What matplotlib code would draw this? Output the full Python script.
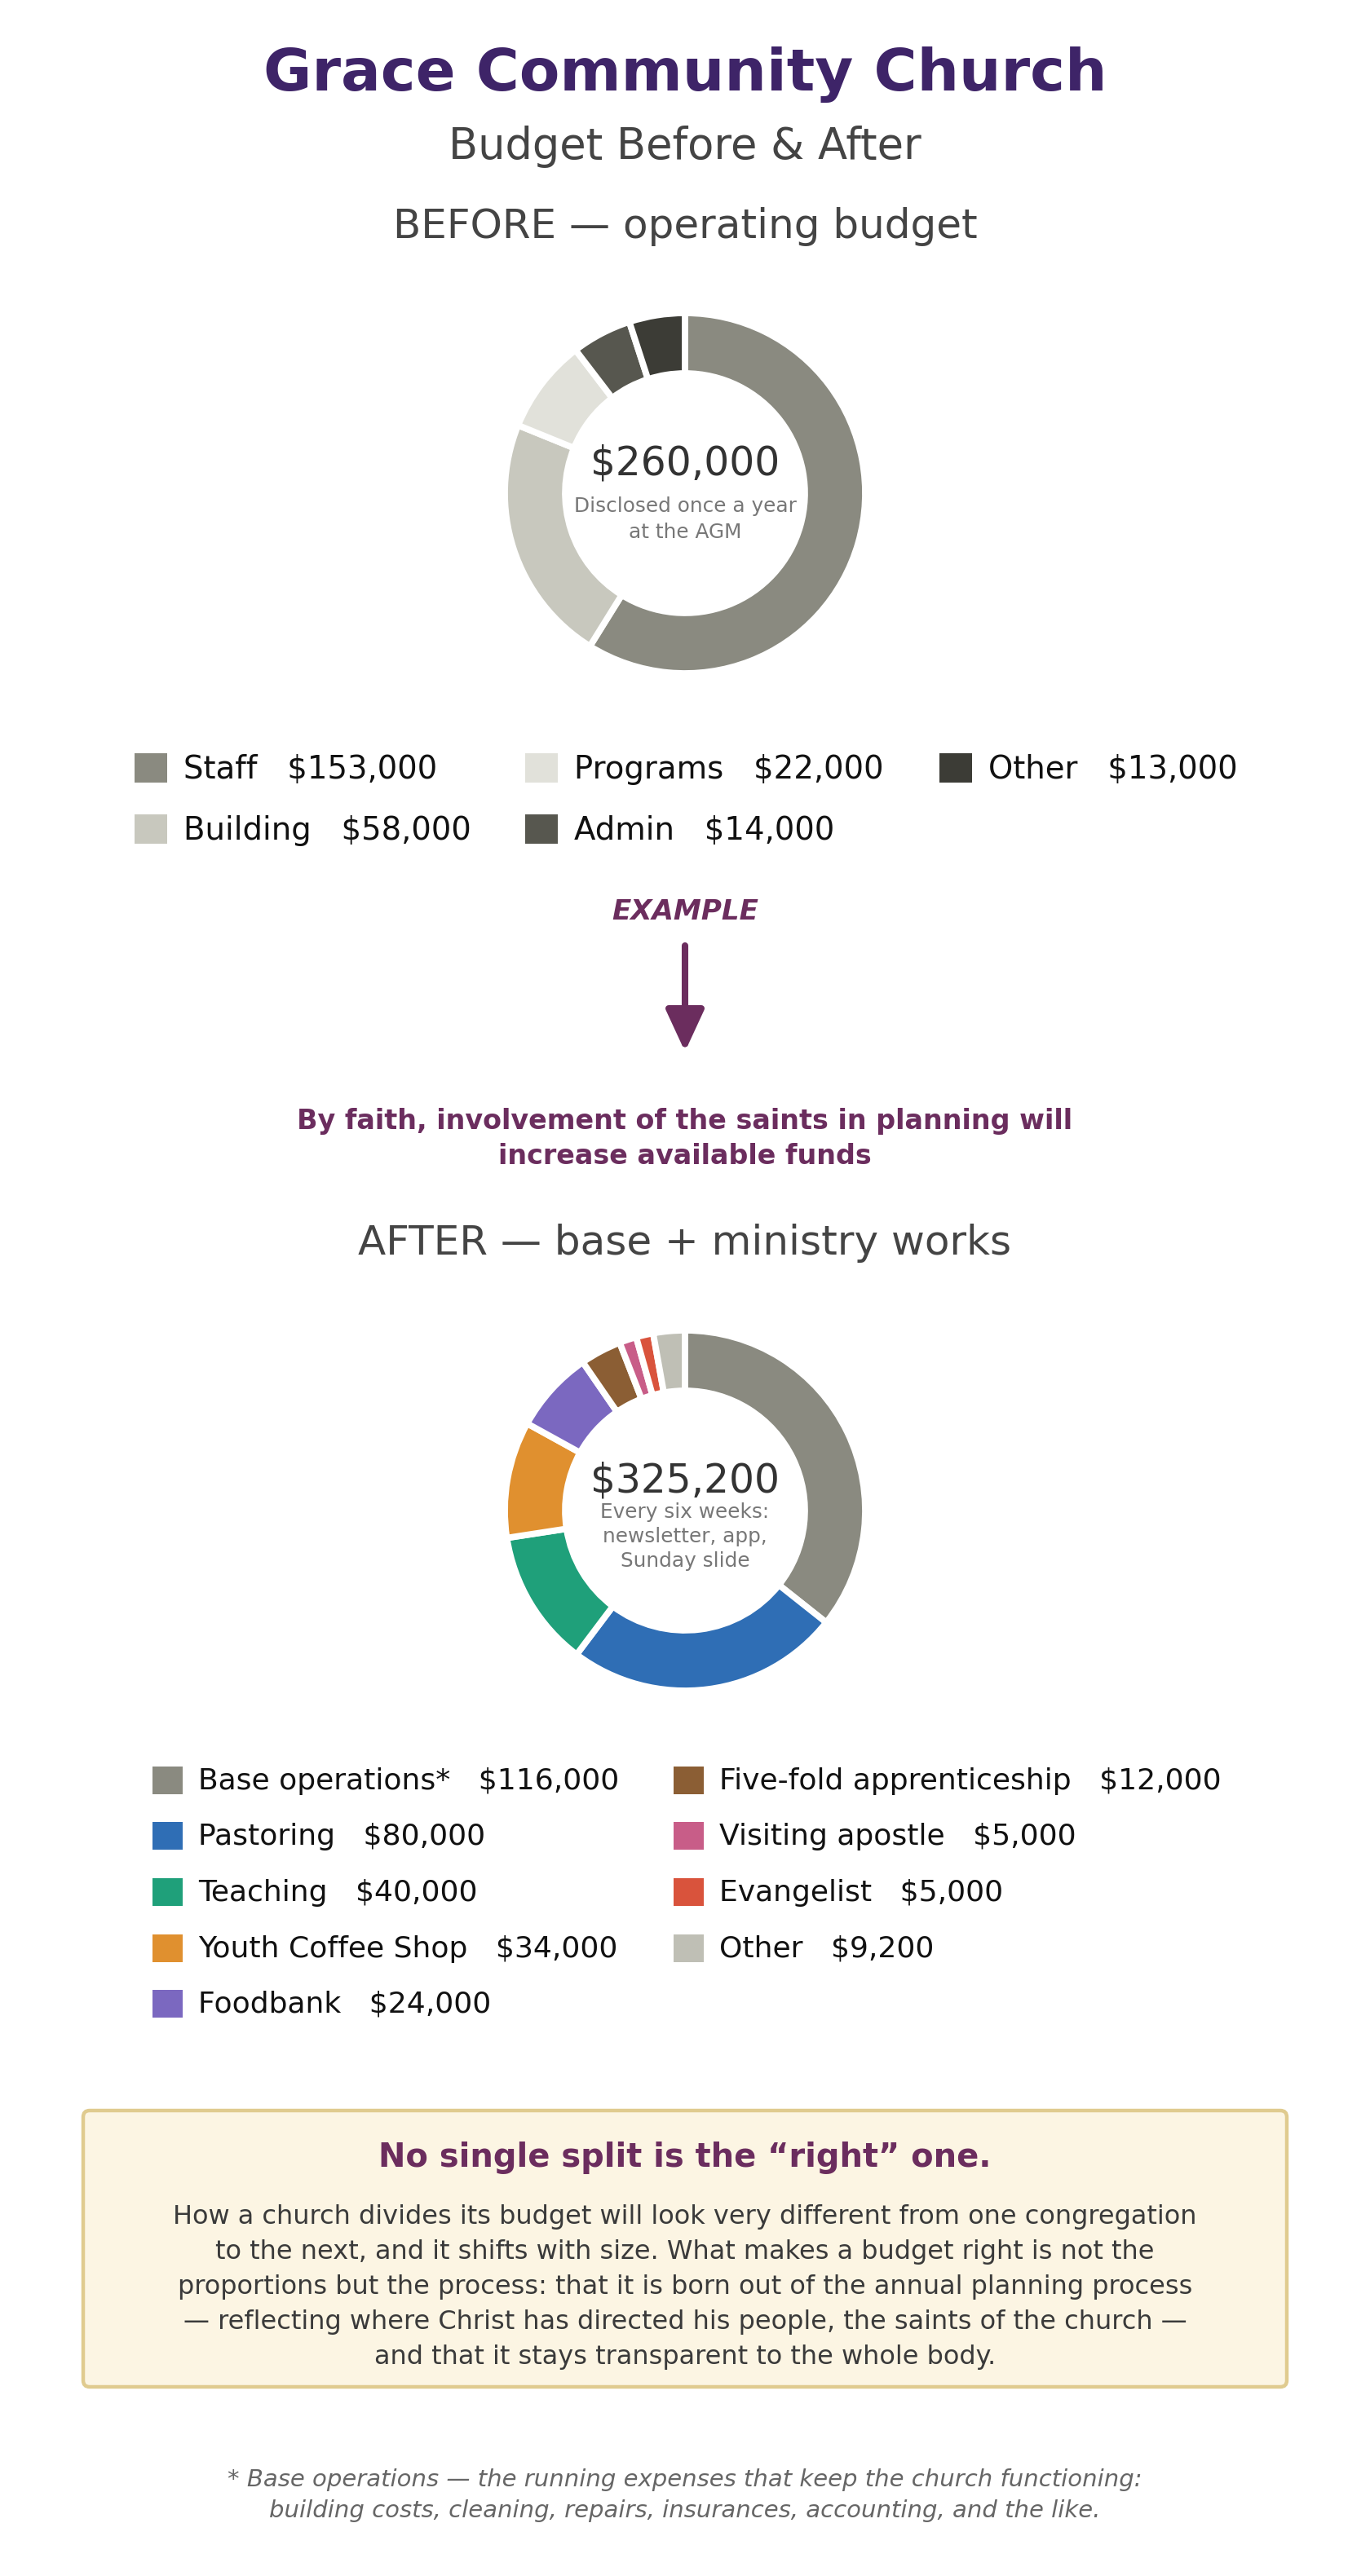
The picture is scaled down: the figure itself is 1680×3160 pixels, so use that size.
import matplotlib
matplotlib.use("Agg")
import matplotlib.pyplot as plt
from matplotlib.patches import Rectangle, FancyBboxPatch, FancyArrowPatch

plt.rcParams['font.family'] = ['DejaVu Sans']

# ---------------- data ----------------
before_labels = ["Staff", "Building", "Programs", "Admin", "Other"]
before_values = [153000, 58000, 22000, 14000, 13000]
before_colors = ["#8a8a80", "#c8c8be", "#e1e1da", "#57574f", "#3c3c36"]

after_labels = ["Base operations*", "Pastoring", "Teaching", "Youth Coffee Shop",
                "Foodbank", "Five-fold apprenticeship", "Visiting apostle",
                "Evangelist", "Other"]
after_values = [116000, 80000, 40000, 34000, 24000, 12000, 5000, 5000, 9200]
after_colors = ["#8a8a80", "#2f6eb5", "#1fa07a", "#e0902f", "#7b68c0",
                "#8b5e34", "#c85d88", "#d9533c", "#bfbfb5"]

W, H, DPI = 1680, 3160, 200
fig = plt.figure(figsize=(W / DPI, H / DPI), dpi=DPI)
fig.patch.set_facecolor("white")

bg = fig.add_axes([0, 0, 1, 1])
bg.set_xlim(0, W)
bg.set_ylim(H, 0)
bg.axis("off")

PURPLE = "#3e2468"
PLUM = "#6b2d5e"
GREY = "#444444"
CX = 840


def txt(x, y, s, size, color, weight="normal", style="normal", ha="center"):
    bg.text(x, y, s, fontsize=size, color=color, fontweight=weight,
            fontstyle=style, ha=ha, va="baseline")


def donut(cx, cy, r, values, colors):
    ax = fig.add_axes([(cx - r) / W, 1 - (cy + r) / H, 2 * r / W, 2 * r / H])
    ax.pie(values, colors=colors, startangle=90, counterclock=False,
           radius=1.0, wedgeprops=dict(width=0.335, edgecolor="white",
                                       linewidth=2.8))
    ax.set_xlim(-1, 1)
    ax.set_ylim(-1, 1)
    ax.set_aspect("equal")
    ax.axis("off")
    return ax


def money(v):
    return "${:,.0f}".format(v)


# ---------------- header ----------------
txt(CX, 111, "Grace Community Church", 26.0, PURPLE, weight="bold")
txt(CX, 195, "Budget Before & After", 19.0, GREY)
txt(CX, 292, "BEFORE — operating budget", 18.0, GREY)

# ---------------- BEFORE donut ----------------
donut(CX, 605, 221, before_values, before_colors)
txt(CX, 582, money(sum(before_values)), 17.5, "#333333")
txt(CX, 628, "Disclosed once a year", 8.9, "#777777")
txt(CX, 660, "at the AGM", 8.9, "#777777")

# BEFORE legend (column-major: 2 rows)
b_cols_sq = [165, 644, 1152]
b_rows = [942, 1017]
for i, (lab, val, col) in enumerate(zip(before_labels, before_values, before_colors)):
    c, r = divmod(i, 2)
    x0 = b_cols_sq[c]
    yc = b_rows[r]
    bg.add_patch(Rectangle((x0, yc - 18), 40, 36, facecolor=col, edgecolor="none"))
    txt(x0 + 60, yc + 13, f"{lab}   {money(val)}", 13.9, "#111111", ha="left")

# ---------------- transition ----------------
txt(CX, 1128, "EXAMPLE", 12.3, PLUM, weight="bold", style="italic")
arrow = FancyArrowPatch((CX, 1160), (CX, 1290),
                        arrowstyle="-|>,head_length=0.78,head_width=0.36",
                        mutation_scale=20, color=PLUM, linewidth=2.9,
                        shrinkA=0, shrinkB=0,
                        capstyle="round", joinstyle="round")
bg.add_patch(arrow)
txt(CX, 1385, "By faith, involvement of the saints in planning will", 12.0, PLUM, weight="bold")
txt(CX, 1428, "increase available funds", 12.0, PLUM, weight="bold")

txt(CX, 1539, "AFTER — base + ministry works", 18.0, GREY)

# ---------------- AFTER donut ----------------
donut(CX, 1853, 221, after_values, after_colors)
txt(CX, 1830, money(sum(after_values)), 17.5, "#333333")
txt(CX, 1862, "Every six weeks:", 8.9, "#777777")
txt(CX, 1892, "newsletter, app,", 8.9, "#777777")
txt(CX, 1922, "Sunday slide", 8.9, "#777777")

a_cols_sq = [187, 826]
a_rows = [2184, 2252, 2321, 2390, 2458]
for i, (lab, val, col) in enumerate(zip(after_labels, after_values, after_colors)):
    c = 0 if i < 5 else 1
    r = i if i < 5 else i - 5
    x0 = a_cols_sq[c]
    yc = a_rows[r]
    bg.add_patch(Rectangle((x0, yc - 17), 37, 34, facecolor=col, edgecolor="none"))
    txt(x0 + 56, yc + 11, f"{lab}   {money(val)}", 13.0, "#111111", ha="left")

# ---------------- note box ----------------
box = FancyBboxPatch((102, 2589), 1476, 339,
                     boxstyle="round,pad=0,rounding_size=8",
                     facecolor="#fcf5e3", edgecolor="#e0cb8f", linewidth=1.6)
bg.add_patch(box)
txt(CX, 2658, "No single split is the \u201cright\u201d one.", 14.4, PLUM, weight="bold")
body = [
    "How a church divides its budget will look very different from one congregation",
    "to the next, and it shifts with size. What makes a budget right is not the",
    "proportions but the process: that it is born out of the annual planning process",
    "\u2014 reflecting where Christ has directed his people, the saints of the church \u2014",
    "and that it stays transparent to the whole body.",
]
for yb, line in zip([2728, 2771, 2814, 2857, 2900], body):
    txt(CX, yb, line, 11.5, "#3a3a3a")

# ---------------- footnote ----------------
txt(CX, 3050, "* Base operations \u2014 the running expenses that keep the church functioning:",
    10.5, "#666666", style="italic")
txt(CX, 3088, "building costs, cleaning, repairs, insurances, accounting, and the like.",
    10.5, "#666666", style="italic")

fig.savefig("out.png", dpi=DPI, facecolor="white")
